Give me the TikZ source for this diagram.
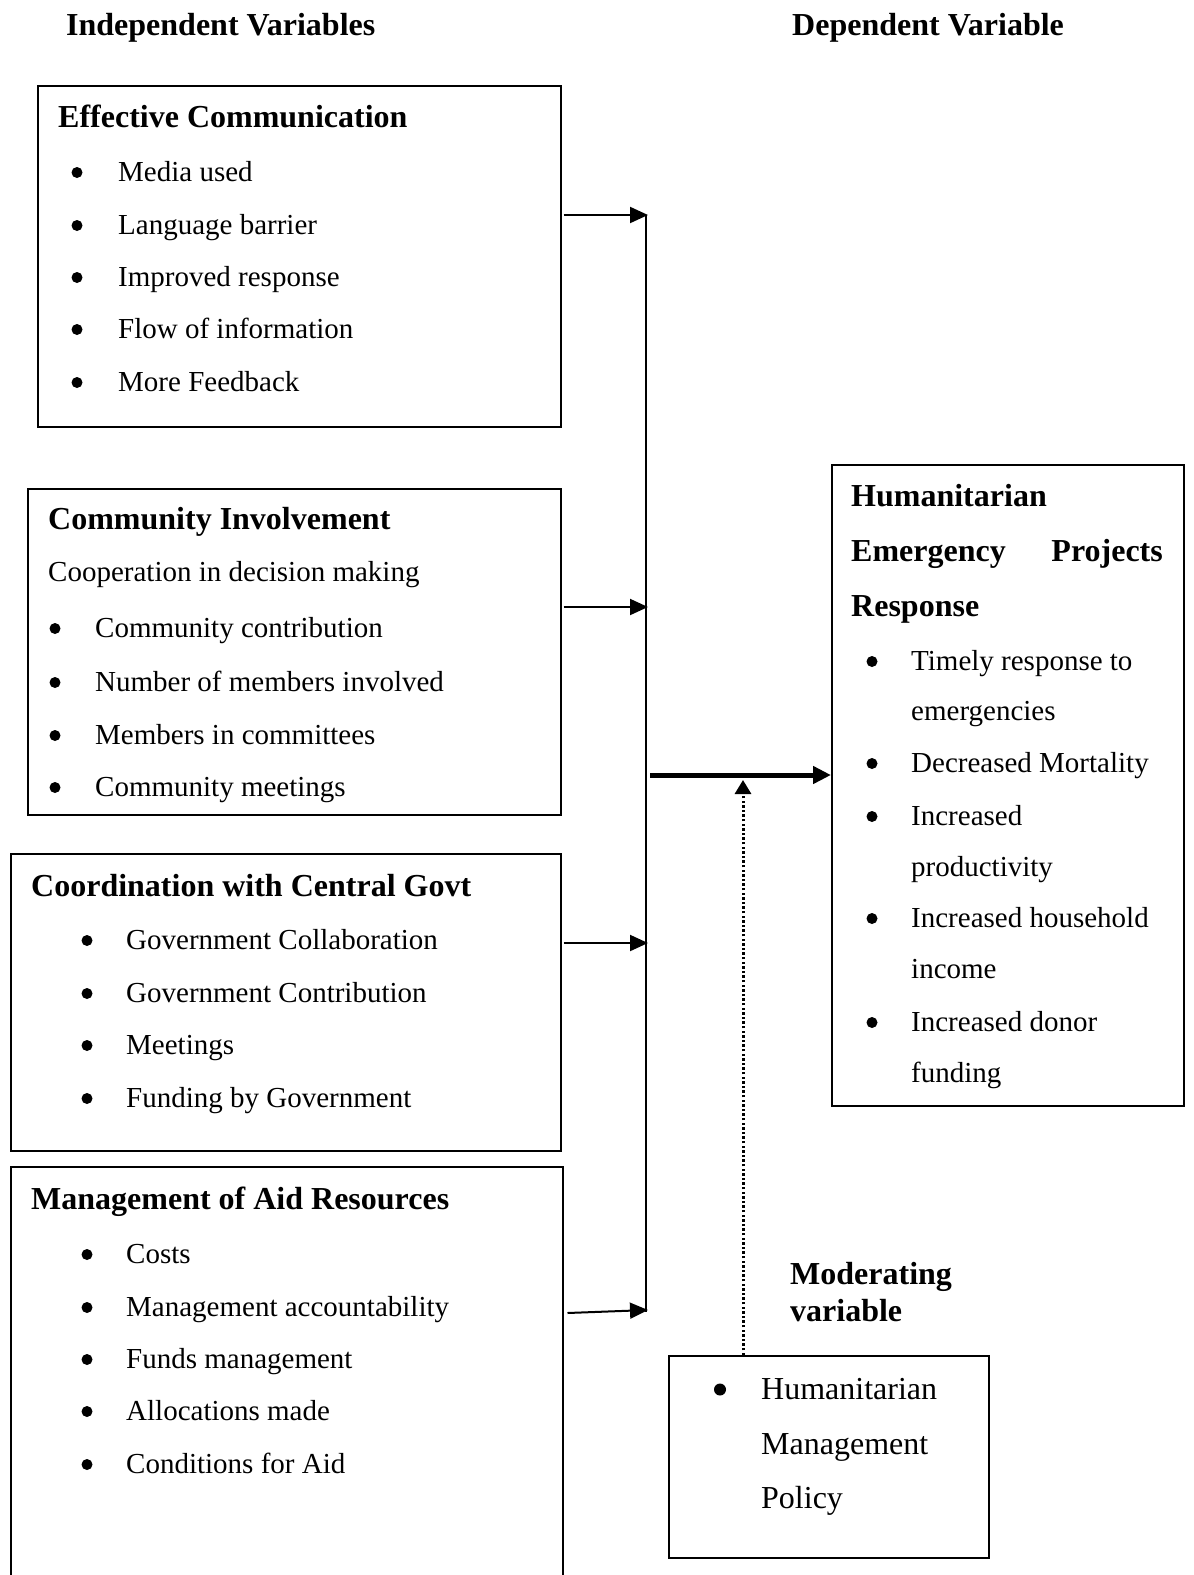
\documentclass[tikz,border=0pt]{standalone}
\usepackage{fontspec}
\setmainfont{Liberation Serif}
\usetikzlibrary{arrows.meta}
\begin{document}
\begin{tikzpicture}[x=1pt,y=-1pt,
 box/.style={draw,line width=1.5pt,anchor=north west,inner sep=0pt},
 body/.style={anchor=base west,inner sep=0pt,font=\fontsize{29}{34}\selectfont},
 bdot/.style={circle,fill,inner sep=0pt,minimum size=11pt,yshift=8.5pt},
 bigbody/.style={anchor=base west,inner sep=0pt,font=\fontsize{32}{38}\selectfont},
 ttl/.style={anchor=base west,inner sep=0pt,font=\fontsize{32}{38}\selectfont\bfseries},
 conn/.style={line width=2pt,-{Triangle[length=18pt,width=16pt]}},
 main/.style={line width=5pt,-{Triangle[length=18pt,width=17pt]}},
 modarr/.style={line width=3pt,dash pattern=on 2.4pt off 2.2pt,-{Triangle[length=14pt,width=16pt]}}]
\useasboundingbox (0,0) rectangle (1194,1575);
% headers
\node[ttl] (hiv) at (66,35) {Independent Variables};
\node[ttl] (hdv) at (792,35) {Dependent Variable};
% boxes
\node[box,minimum width=523,minimum height=341] (ec) at (37,85) {};
\node[box,minimum width=533,minimum height=326] (ci) at (27,488) {};
\node[box,minimum width=550,minimum height=297] (cg) at (10,853) {};
\node[box,minimum width=552,minimum height=420] (ma) at (10,1166) {};
\node[box,minimum width=352,minimum height=641] (dv) at (831,464) {};
\node[box,minimum width=320,minimum height=202] (mp) at (668,1355) {};
% Effective Communication
\node[ttl] (ect) at (58,127) {Effective Communication};
\foreach \t/\y [count=\i] in {Media used/181,Language barrier/234,Improved response/286,Flow of information/338,More Feedback/391}{
  \node[bdot] (ecb\i) at (77,\y) {};
  \node[body] (eci\i) at (118,\y) {\t};
}
% Community Involvement
\node[ttl] (cit) at (48,529) {Community Involvement};
\node[body] (cic) at (48,581) {Cooperation in decision making};
\foreach \t/\y [count=\i] in {Community contribution/637,Number of members involved/691,Members in committees/744,Community meetings/796}{
  \node[bdot] (cib\i) at (55,\y) {};
  \node[body] (cii\i) at (95,\y) {\t};
}
% Coordination with Central Govt
\node[ttl] (cgt) at (31,896) {Coordination with Central Govt};
\foreach \t/\y [count=\i] in {Government Collaboration/949,Government Contribution/1002,Meetings/1054,Funding by Government/1107}{
  \node[bdot] (cgb\i) at (87,\y) {};
  \node[body] (cgi\i) at (126,\y) {\t};
}
% Management of Aid Resources
\node[ttl] (mat) at (31,1209) {Management of Aid Resources};
\foreach \t/\y [count=\i] in {Costs/1263,Management accountability/1316,Funds management/1368,Allocations made/1420,Conditions for Aid/1473}{
  \node[bdot] (mab\i) at (87,\y) {};
  \node[body] (mai\i) at (126,\y) {\t};
}
% Dependent variable
\node[ttl] (dvt1) at (851,506) {Humanitarian};
\node[ttl] (dvt2) at (851,561) {Emergency};
\node[ttl,anchor=base east] (dvt3) at (1163,561) {Projects};
\node[ttl] (dvt4) at (851,616) {Response};
\foreach \y [count=\i] in {670,772,825,927,1031}{
  \node[bdot] (dvb\i) at (872,\y) {};
}
\foreach \t/\y [count=\i] in {Timely response to/670,emergencies/720,Decreased Mortality/772,Increased/825,productivity/876,Increased household/927,income/978,Increased donor/1031,funding/1082}{
  \node[body] (dvi\i) at (911,\y) {\t};
}
% Moderating variable
\node[ttl] (mvt1) at (790,1284) {Moderating};
\node[ttl] (mvt2) at (790,1321) {variable};
\node[bdot,minimum size=12pt,yshift=1pt] (mpb) at (720,1399) {};
\node[bigbody] (mpi1) at (761,1399) {Humanitarian};
\node[bigbody] (mpi2) at (761,1454) {Management};
\node[bigbody] (mpi3) at (761,1508) {Policy};
% connectors
\coordinate (j1) at (648,215);
\coordinate (j2) at (648,607);
\coordinate (j3) at (648,943);
\coordinate (j4) at (648,1310);
\coordinate (jm) at (650,775);
\coordinate (jd) at (743,780);
\draw[line width=2pt] (646,215) -- (646,1312);
\draw[conn] ([xshift=2pt]ec.east |- j1) -- (j1);
\draw[conn] ([xshift=2pt]ci.east |- j2) -- (j2);
\draw[conn] ([xshift=2pt]cg.east |- j3) -- (j3);
\draw[conn] ([xshift=4pt,yshift=-3pt]ma.east |- j4) -- (j4);
\draw[main] (jm) -- (dv.west |- jm);
\draw[modarr] (mp.north -| jd) -- (jd);
\end{tikzpicture}
\end{document}
